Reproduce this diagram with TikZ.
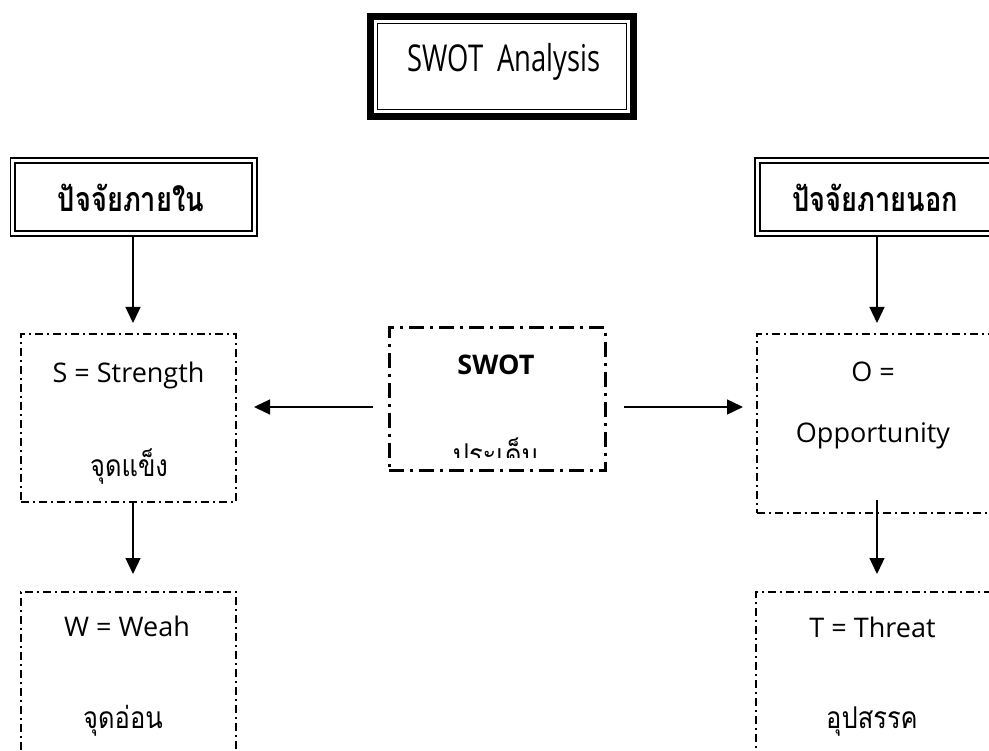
\documentclass[tikz,border=0pt]{standalone}
\usepackage{fontspec}
\setmainfont[Script=Thai]{Loma}
\newfontfamily\latfont{Open Sans}
\newfontfamily\ttlfont[FakeStretch=0.74]{Open Sans}
\newfontfamily\thaiN[Script=Thai,FakeStretch=0.85]{Loma}
\newfontfamily\thaiH[Script=Thai,FakeStretch=0.8]{Loma}
\usetikzlibrary{arrows.meta,calc}
\begin{document}
\begin{tikzpicture}[x=1pt,y=-1pt,
  thinbox/.style={draw, line width=1.5pt, dash pattern=on 8pt off 4pt on 2pt off 4pt, inner sep=0pt},
  thickbox/.style={draw, line width=3pt, dash pattern=on 15pt off 6pt on 3pt off 6pt, inner sep=0pt},
  dblbox/.style={draw, double, double distance=3pt, line width=1.7pt, inner sep=0pt},
  titlebox/.style={draw, line width=7pt, inner sep=0pt},
  arr/.style={line width=1.3pt, -{Triangle[length=16pt,width=15pt]}},
  lat/.style={font=\latfont\fontsize{27}{31}\selectfont, anchor=base, inner sep=0pt},
  latb/.style={font=\latfont\bfseries\fontsize{27}{31}\selectfont, anchor=base, inner sep=0pt},
  thai/.style={font=\thaiN\fontsize{30}{34}\selectfont, anchor=base, inner sep=0pt},
  hdr/.style={font=\thaiH\bfseries\fontsize{34}{38}\selectfont, anchor=base, inner sep=0pt},
  ttl/.style={font=\ttlfont\fontsize{37}{41}\selectfont, anchor=base, inner sep=0pt}]
\useasboundingbox (0,0) rectangle (989,751);
\clip (0,0) rectangle (989,751);
\fill[white] (0,0) rectangle (989,751);

% title
\node[titlebox, minimum width=263pt, minimum height=100pt] (title) at (502,66.5) {};
\node[draw, line width=1.5pt, minimum width=249pt, minimum height=86pt, inner sep=0pt] (titlein) at (502,66.5) {};
\node[ttl] (ttltext) at (504,72) {SWOT\ \ Analysis};

% headers
\node[dblbox, minimum width=241.7pt, minimum height=73pt] (lh) at (133.65,197) {};
\node[hdr] (lhtext) at (131,212) {ปัจจัยภายใน};
\node[dblbox, minimum width=300pt, minimum height=73pt] (rh) at (907.4,197) {};
\node[hdr] (rhtext) at (875,212) {ปัจจัยภายนอก};

% S box
\node[thinbox, minimum width=215pt, minimum height=168pt] (S) at (128.5,418) {};
\node[lat] (Stext) at (128.5,383) {S = Strength};
\node[thai] (Sthai) at (129,477) {จุดแข็ง};

% W box
\node[thinbox, minimum width=215pt, minimum height=230pt] (W) at (128.5,707) {};
\node[lat] (Wtext) at (127,636) {W = Weah};
\node[thai] (Wthai) at (123,728) {จุดอ่อน};

% O box
\node[thinbox, minimum width=300pt, minimum height=179pt] (O) at (907,423.5) {};
\node[lat] (Otext1) at (873,382) {O =};
\node[lat] (Otext2) at (873,443) {Opportunity};

% T box
\node[thinbox, minimum width=300pt, minimum height=230pt] (T) at (906,707) {};
\node[lat] (Ttext) at (872.5,637) {T = Threat};
\node[thai] (Tthai) at (872,728) {อุปสรรค};

% center box
\node[thickbox, minimum width=216pt, minimum height=143pt] (C) at (497,399.5) {};
\node[latb] (Ctext) at (496,375) {SWOT};
\begin{scope}
  \clip (389,340) rectangle (605,458);
  \node[thai] (Cthai) at (496,466) {ประเด็น};
\end{scope}

% connector coordinates
\coordinate (lhA) at (133,236);
\coordinate (sTop) at (133,323);
\coordinate (sBot) at (133,502);
\coordinate (wTop) at (133,574);
\coordinate (rhA) at (877,236);
\coordinate (oTop) at (877,323);
\coordinate (oBot) at (877,500);
\coordinate (tTop) at (877,574);
\coordinate (cL) at (373,407);
\coordinate (sR) at (254,407);
\coordinate (cR) at (624,407);
\coordinate (oL) at (743,407);

\draw[arr] (lhA) -- (sTop);
\draw[arr] (sBot) -- (wTop);
\draw[arr] (rhA) -- (oTop);
\draw[arr] (oBot) -- (tTop);
\draw[arr] (cL) -- (sR);
\draw[arr] (cR) -- (oL);
\end{tikzpicture}
\end{document}
